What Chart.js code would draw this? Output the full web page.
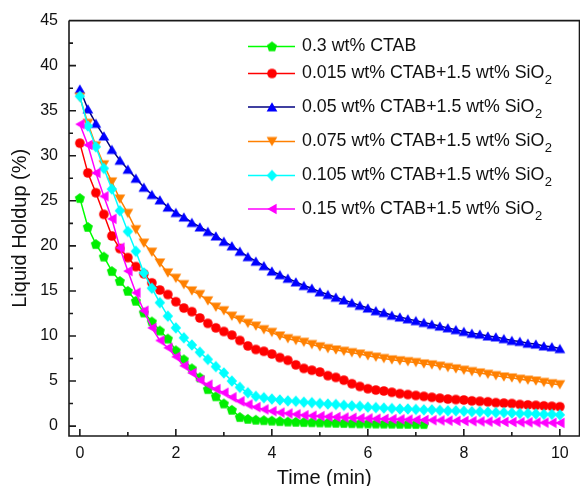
<!DOCTYPE html>
<html>
<head>
<meta charset="utf-8">
<script src="https://cdn.jsdelivr.net/npm/chart.js@4/dist/chart.umd.min.js"></script>
<style>
  html, body { margin: 0; padding: 0; background: #fff; overflow: hidden; }
  #wrap { width: 580px; height: 486px; overflow: hidden; }
</style>
</head>
<body>
<div id="wrap"><canvas id="myChart" width="586" height="486"></canvas></div>
<script>
// sampling times, seconds
var timeSec = [0, 10, 20, 30, 40, 50, 60, 70, 80, 90, 100, 110, 120, 130, 140, 150, 160, 170, 180, 190,
  200, 210, 220, 230, 240, 250, 260, 270, 280, 290, 300, 310, 320, 330, 340, 350, 360, 370, 380, 390,
  400, 410, 420, 430, 440, 450, 460, 470, 480, 490, 500, 510, 520, 530, 540, 550, 560, 570, 580, 590, 600];

// liquid holdup (%)
var ctab03 = [25.3, 22.1, 20.2, 18.8, 17.2, 16.1, 15.0, 13.9, 12.6, 11.6,
  10.6, 9.7, 8.4, 7.4, 6.4, 5.4, 4.1, 3.3, 2.5, 1.8,
  1.0, 0.8, 0.7, 0.65, 0.6, 0.55, 0.5, 0.47, 0.44, 0.42,
  0.4, 0.38, 0.36, 0.34, 0.32, 0.3, 0.29, 0.28, 0.27, 0.26,
  0.25, 0.24, 0.23, 0.22];
var ctab0015 = [31.4, 28.1, 25.9, 23.5, 21.1, 19.7, 18.7, 17.7, 16.9, 15.9,
  15.1, 14.6, 13.8, 13.1, 12.7, 12.0, 11.4, 10.9, 10.5, 10.1,
  9.5, 8.9, 8.5, 8.3, 8.0, 7.6, 7.3, 6.8, 6.4, 6.2,
  6.0, 5.6, 5.4, 5.1, 4.7, 4.4, 4.15, 4.0, 3.9, 3.75,
  3.6, 3.5, 3.4, 3.3, 3.2, 3.1, 3.0, 2.95, 2.9, 2.8,
  2.75, 2.7, 2.6, 2.55, 2.5, 2.4, 2.35, 2.3, 2.25, 2.2, 2.15];
var ctab005 = [37.4, 35.2, 33.6, 32.2, 30.7, 29.5, 28.5, 27.5, 26.5, 25.7,
  25.1, 24.3, 23.7, 23.2, 22.6, 22.1, 21.6, 21.1, 20.5, 20.0,
  19.4, 18.8, 18.3, 17.8, 17.2, 16.8, 16.4, 16.0, 15.6, 15.3,
  14.9, 14.6, 14.3, 14.0, 13.7, 13.4, 13.1, 12.8, 12.6, 12.3,
  12.1, 11.9, 11.7, 11.5, 11.3, 11.1, 10.9, 10.7, 10.5, 10.3,
  10.2, 10.0, 9.9, 9.7, 9.5, 9.4, 9.2, 9.1, 8.9, 8.8, 8.6];
var ctab0075 = [36.5, 33.6, 31.1, 29.0, 27.1, 25.2, 23.6, 21.8, 20.3, 19.3,
  18.1, 17.0, 16.4, 15.7, 15.0, 14.6, 13.9, 13.2, 12.8, 12.2,
  11.8, 11.4, 11.1, 10.7, 10.4, 10.0, 9.7, 9.5, 9.3, 9.05,
  8.8, 8.6, 8.45, 8.3, 8.15, 8.0, 7.8, 7.65, 7.5, 7.35,
  7.25, 7.15, 7.05, 6.9, 6.8, 6.65, 6.5, 6.35, 6.2, 6.05,
  5.9, 5.75, 5.6, 5.45, 5.35, 5.2, 5.1, 5.0, 4.85, 4.7, 4.6];
var ctab0105 = [36.6, 33.3, 31.0, 28.6, 26.3, 23.9, 21.6, 19.4, 17.0, 15.3,
  13.7, 12.2, 10.9, 9.8, 9.0, 8.2, 7.4, 6.6, 5.9, 5.0,
  4.3, 3.7, 3.3, 3.15, 3.0, 2.9, 2.8, 2.75, 2.65, 2.6,
  2.5, 2.45, 2.4, 2.3, 2.25, 2.2, 2.1, 2.05, 2.0, 1.95,
  1.9, 1.9, 1.85, 1.8, 1.8, 1.75, 1.7, 1.7, 1.65, 1.6,
  1.6, 1.55, 1.5, 1.5, 1.45, 1.4, 1.4, 1.35, 1.3, 1.3, 1.25];
var ctab015 = [33.5, 31.2, 28.1, 25.5, 23.0, 19.8, 17.2, 14.8, 12.8, 10.9,
  9.5, 8.7, 7.7, 6.7, 5.9, 5.1, 4.6, 4.1, 3.7, 3.2,
  2.75, 2.4, 2.1, 1.85, 1.65, 1.5, 1.4, 1.3, 1.2, 1.15,
  1.1, 1.05, 1.0, 0.95, 0.92, 0.88, 0.85, 0.82, 0.8, 0.77,
  0.75, 0.72, 0.7, 0.68, 0.65, 0.63, 0.6, 0.58, 0.56, 0.54,
  0.52, 0.5, 0.48, 0.46, 0.45, 0.43, 0.42, 0.4, 0.38, 0.37, 0.35];

var seriesNames = ['0.3 wt% CTAB', '0.015 wt% CTAB+1.5 wt% SiO2', '0.05 wt% CTAB+1.5 wt% SiO2',
  '0.075 wt% CTAB+1.5 wt% SiO2', '0.105 wt% CTAB+1.5 wt% SiO2', '0.15 wt% CTAB+1.5 wt% SiO2'];
var xTicks = [0, 2, 4, 6, 8, 10];
var yTicks = [0, 5, 10, 15, 20, 25, 30, 35, 40, 45];

var FONT = '"Liberation Sans", Arial, sans-serif';

// marker bitmaps so the pentagon / left triangle look like the original
function makeMarker(shape, color) {
  var c = document.createElement('canvas');
  c.width = 14; c.height = 14;
  var g = c.getContext('2d');
  g.fillStyle = color;
  g.beginPath();
  if (shape === 'circle') {
    g.arc(7, 7, 4.8, 0, Math.PI * 2);
  } else {
    var n = 3, r = 6.2, a0 = -Math.PI / 2, cy = 7, cx = 7, sx = 1;
    if (shape === 'pentagon') { n = 5; r = 5.3; cy = 7.4; }
    if (shape === 'down') { a0 = Math.PI / 2; cy = 5.5; }
    if (shape === 'up') { cy = 8.5; }
    if (shape === 'left') { a0 = Math.PI; cx = 8.5; }
    if (shape === 'diamond') { n = 4; r = 5.8; sx = 0.9; }
    for (var i = 0; i < n; i++) {
      var a = a0 + i * 2 * Math.PI / n;
      var px = cx + Math.cos(a) * r * sx, py = cy + Math.sin(a) * r;
      if (i === 0) g.moveTo(px, py); else g.lineTo(px, py);
    }
    g.closePath();
  }
  g.fill();
  return c;
}

var seriesData = [ctab03, ctab0015, ctab005, ctab0075, ctab0105, ctab015];
var lineColors = ['#00ff00', '#ff0000', '#000080', '#ff8000', '#00ffff', '#ff00ff'];
var markColors = ['#00ee00', '#ff0000', '#0000ff', '#ff8000', '#00ffff', '#ff00ff'];
var shapes = ['pentagon', 'circle', 'up', 'down', 'diamond', 'left'];
var markers = shapes.map(function (s, i) { return makeMarker(s, markColors[i]); });

var datasets = seriesData.map(function (vals, i) {
  return {
    label: seriesNames[i],
    data: vals.map(function (v, j) { return { x: timeSec[j] / 60, y: v }; }),
    borderColor: lineColors[i],
    backgroundColor: markColors[i],
    borderWidth: 1.5,
    pointStyle: markers[i],
    pointRadius: 5,
    tension: 0,
    order: 6 - i
  };
});

var framePlugin = {
  id: 'frame',
  afterDatasetsDraw: function (chart) {
    var ctx = chart.ctx, a = chart.chartArea;
    var xs = chart.scales.x, ys = chart.scales.y;
    ctx.save();
    ctx.strokeStyle = '#1a1a1a';
    ctx.lineWidth = 1.6;
    ctx.beginPath();
    ctx.moveTo(a.left, a.top); ctx.lineTo(a.right, a.top);
    ctx.lineTo(a.right, a.bottom); ctx.lineTo(a.left, a.bottom);
    ctx.lineTo(a.left, a.top);
    // inward ticks
    for (var t = 0; t <= 10; t++) {
      var px = xs.getPixelForValue(t);
      var len = t % 2 === 0 ? 7 : 4;
      ctx.moveTo(px, a.bottom); ctx.lineTo(px, a.bottom - len);
    }
    for (var v = 0; v <= 45; v += 2.5) {
      var py = ys.getPixelForValue(v);
      var l2 = v % 5 === 0 ? 7 : 4;
      ctx.moveTo(a.left, py); ctx.lineTo(a.left + l2, py);
    }
    ctx.stroke();
    ctx.restore();
  },
  afterDraw: function (chart) {
    var ctx = chart.ctx;
    var rows = [46.5, 73.5, 107, 141.5, 175.5, 209];
    ctx.save();
    ctx.textBaseline = 'middle';
    ctx.textAlign = 'left';
    seriesNames.forEach(function (name, i) {
      var y = rows[i];
      ctx.strokeStyle = lineColors[i];
      ctx.lineWidth = 1.5;
      ctx.beginPath();
      ctx.moveTo(248, y); ctx.lineTo(295, y);
      ctx.stroke();
      ctx.drawImage(markers[i], 272 - 7, y - 7);
      ctx.fillStyle = '#111';
      var main = name, sub = '';
      if (/SiO2$/.test(name)) { main = name.slice(0, -1); sub = '2'; }
      ctx.font = '17.8px ' + FONT;
      ctx.fillText(main, 302, y);
      if (sub) {
        var w = ctx.measureText(main).width;
        ctx.font = '13px ' + FONT;
        ctx.fillText(sub, 302 + w + 0.5, y + 7);
      }
    });
    ctx.restore();
  }
};

var ctx = document.getElementById('myChart').getContext('2d');
var myChart = new Chart(ctx, {
  type: 'line',
  data: { datasets: datasets },
  options: {
    responsive: false,
    animation: false,
    layout: { padding: { top: 17, right: 0, left: 0, bottom: 0 } },
    plugins: {
      legend: { display: false },
      tooltip: { enabled: false }
    },
    scales: {
      x: {
        type: 'linear',
        min: -0.226,
        max: 10.41,
        afterBuildTicks: function (s) { s.ticks = xTicks.map(function (v) { return { value: v }; }); },
        afterFit: function (s) { s.height = 50; },
        grid: { display: false, drawTicks: false },
        border: { display: false },
        ticks: { padding: 8, color: '#111', font: { family: FONT, size: 16 }, maxRotation: 0 },
        title: { display: true, text: 'Time (min)', color: '#111', font: { family: FONT, size: 20 }, padding: { top: 0, bottom: -4 } }
      },
      y: {
        min: -1.1,
        max: 45,
        afterBuildTicks: function (s) { s.ticks = yTicks.map(function (v) { return { value: v }; }); },
        afterFit: function (s) { s.width = 69; },
        grid: { display: false, drawTicks: false },
        border: { display: false },
        ticks: { padding: 11, color: '#111', font: { family: FONT, size: 16 } },
        title: { display: true, text: 'Liquid Holdup (%)', color: '#111', font: { family: FONT, size: 20 }, padding: { top: 8, bottom: 0 } }
      }
    }
  },
  plugins: [framePlugin]
});
</script>
</body>
</html>
